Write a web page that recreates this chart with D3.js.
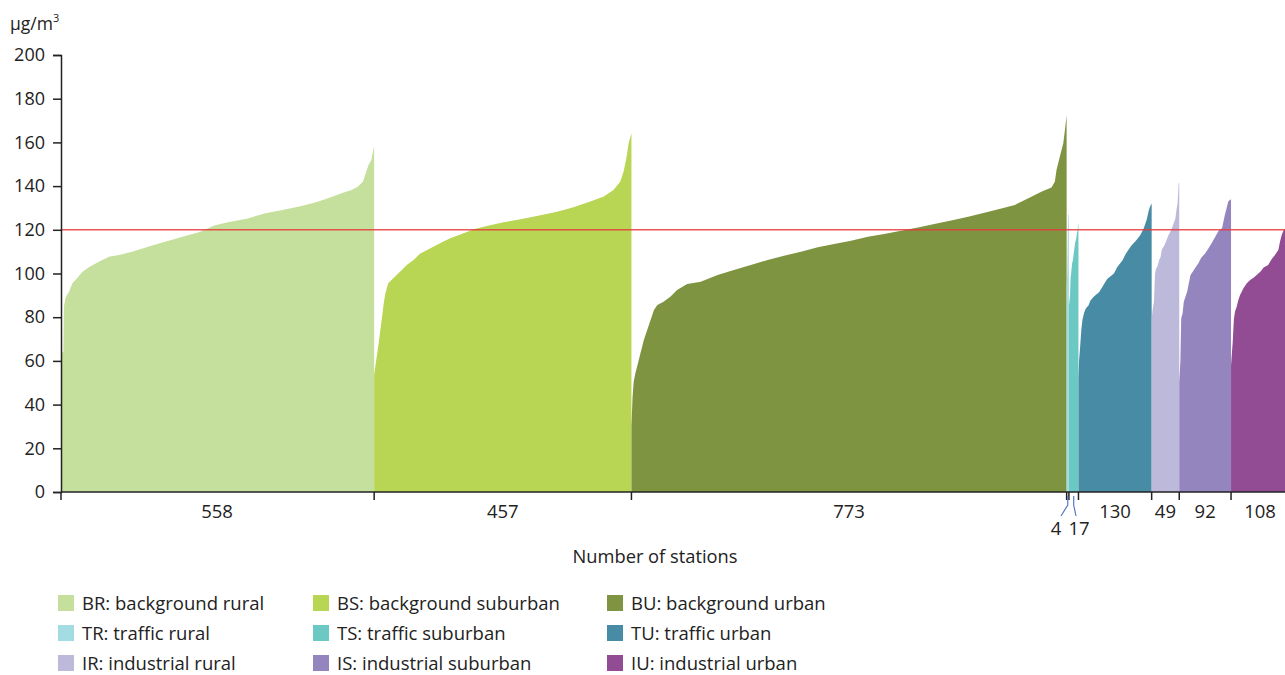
<!DOCTYPE html>
<html>
<head>
<meta charset="utf-8">
<script src="https://cdn.jsdelivr.net/npm/d3@7"></script>
<style>
  html, body { margin: 0; padding: 0; background: #fff; }
  svg { display: block; font-family: "Open Sans", "Noto Sans", sans-serif; }
</style>
</head>
<body>
<svg id="chart" width="1285" height="675"></svg>
<script>
// ---- data: sorted station values per category, as [station rank, value µg/m³]
const categories = ["BR", "BS", "BU", "TR", "TS", "TU", "IR", "IS", "IU"];
const categoryNames = ["background rural", "background suburban", "background urban",
                       "traffic rural", "traffic suburban", "traffic urban",
                       "industrial rural", "industrial suburban", "industrial urban"];
const stationCounts = [558, 457, 773, 4, 17, 130, 49, 92, 108];
const colors = ["#c5df9c", "#b8d553", "#7e9440", "#a4dce4", "#6cc8c3", "#488ba4", "#bdb9db", "#9585bf", "#924c93"];

const valuesBR = [[0,60],[3,64],[6,64],[7,85],[10,89],[16,91.7],[22,95.5],[31,98],[40,100.8],[52,103],[69,105.4],[87,107.7],[105,108.5],[128,110],[158,112.3],[188,114.6],[218,116.8],[248,119],[274,122],[298,123.4],[334,125.2],[363,127.5],[393,129],[423,130.6],[452,132.4],[476,134.4],[500,136.7],[518,138.2],[529,139.7],[538,142],[544,146.6],[548,149.6],[553,152],[558,158.4]];
const valuesBS = [[0,53.5],[2,57.3],[5,62.7],[8,68],[11,74],[14,80],[17,86.4],[20,91],[25,95.5],[34,97.8],[46,100.8],[58,103.9],[70,106.2],[82,109.2],[100,111.5],[117,113.8],[135,116.1],[159,118.4],[177,120.2],[200,121.7],[230,123.4],[260,124.8],[289,126.3],[325,128.3],[354,130.3],[384,132.9],[408,135.2],[425,138.2],[437,142],[443,146.6],[448,152.7],[452,159.6],[457,164.2]];
const valuesBU = [[0,30],[2,43.6],[4,50.5],[7,54.3],[10,57.3],[13,60.4],[16,63.5],[19,66.5],[22,69.6],[28,74.1],[34,78.7],[40,83.3],[46,85.6],[57,87.1],[69,89.4],[81,92.4],[99,95.2],[123,96.2],[153,99.3],[182,101.6],[212,103.9],[242,106.2],[271,108.1],[301,110],[331,112],[360,113.5],[390,115],[420,116.8],[449,118.1],[479,119.6],[509,121.1],[538,122.7],[568,124.2],[598,126],[627,127.8],[657,129.8],[681,131.4],[705,134.4],[728,137.4],[746,139.4],[752,142],[755,147.4],[761,153.5],[767,159.6],[770,165.7],[773,172.5]];
const valuesTR = [[0,94],[1,100],[2,118],[3,127],[4,127]];
const valuesTS = [[0,85],[2,90],[3,98],[4,100],[5,103],[6,105],[7,106],[8,108],[9,110],[10,112],[11,114],[12,115],[13,116],[14,118],[15,119],[16,121],[17,123]];
const valuesTU = [[0,52],[1,60],[3,66.5],[5,74],[7,78.7],[10,82],[13,84],[18,85.5],[21,87.5],[27,89.4],[37,91.5],[45,95],[51,97.5],[63,100],[69,103],[78,106],[84,109],[93,112.5],[102,115],[110,117.6],[116,120.7],[121,124.5],[125,129],[127,130.6],[130,132]];
const valuesIR = [[0,79],[2,84],[4,87],[6,100],[8,102.4],[10,103],[13,106],[16,107.7],[18,111],[23,113],[26,115],[30,117.6],[33,119],[37,121.4],[39,123],[42,125],[44,129],[46,132],[48,141.3],[49,141.3]];
const valuesIS = [[0,50.5],[2,59.6],[3.5,79.5],[6,81.8],[8,87],[11,89.4],[14,91.7],[17,95.5],[20,99.3],[24,100.8],[28,102.4],[34,104.7],[39,107.2],[46,109.2],[52,111.5],[58,114.1],[64,116.8],[70,119.6],[76,120.7],[81,126.8],[84,129.8],[87,132.9],[90,133.6],[92,134]];
const valuesIU = [[0,58],[3,68.8],[5,79],[7,82.5],[10,84.8],[13,87.9],[16,90.2],[19,91.7],[22,93.2],[28,95.5],[34,97],[40,98.1],[52,100.8],[58,102.7],[66,103.9],[72,106.5],[78,108.5],[84,110.8],[87,114.6],[90,117.6],[93,119.6],[96,120.5],[102,123],[108,126]];
const seriesValues = [valuesBR, valuesBS, valuesBU, valuesTR, valuesTS, valuesTU, valuesIR, valuesIS, valuesIU];

const yTicks = [0, 20, 40, 60, 80, 100, 120, 140, 160, 180, 200];
const limitValue = 120;
const yUnit = "µg/m";
const xTitle = "Number of stations";

// ---- layout
const svg = d3.select("#chart");
const mLeft = 61, mBottom = 492, mTop = 55;
const totalStations = d3.sum(stationCounts);
const offsets = stationCounts.map((c, i) => d3.sum(stationCounts.slice(0, i)));

const x = d3.scaleLinear().domain([0, totalStations]).range([60, 60 + totalStations * 0.563]);
const y = d3.scaleLinear().domain([0, 200]).range([mBottom, mTop]);

svg.append("defs").append("clipPath").attr("id", "plotclip")
  .append("rect").attr("x", mLeft).attr("y", 0).attr("width", 1285 - mLeft).attr("height", mBottom);

const plot = svg.append("g").attr("clip-path", "url(#plotclip)");

seriesValues.forEach((vals, i) => {
  const area = d3.area()
    .x(d => x(offsets[i] + d[0]))
    .y0(y(0))
    .y1(d => y(d[1]))
    .curve(d3.curveLinear);
  plot.append("path").datum(vals).attr("d", area).attr("fill", colors[i]);
});

// limit line
svg.append("line")
  .attr("x1", mLeft).attr("x2", 1285)
  .attr("y1", y(limitValue)).attr("y2", y(limitValue))
  .attr("stroke", "#e8383d").attr("stroke-opacity", 0.85).attr("stroke-width", 1.6);

// y axis
const yAxis = svg.append("g").attr("transform", `translate(${mLeft},0)`)
  .call(d3.axisLeft(y).tickValues(yTicks).tickSize(8).tickPadding(8));
yAxis.select(".domain").attr("stroke", "#222").attr("stroke-width", 1.5);
yAxis.selectAll(".tick line").attr("stroke", "#222").attr("stroke-width", 1.5);
yAxis.selectAll("text").attr("font-size", 18).attr("fill", "#222")
  .attr("font-family", "'Open Sans', sans-serif");

// unit label
const unit = svg.append("text").attr("x", 10).attr("y", 30)
  .attr("font-size", 17.5).attr("fill", "#222");
unit.append("tspan").text(yUnit);
unit.append("tspan").text("3").attr("font-size", 11).attr("dy", -8);

// x axis: boundaries
const boundaries = [0].concat(stationCounts.map((c, i) => offsets[i] + c));
svg.append("line").attr("x1", mLeft).attr("x2", 1285).attr("y1", mBottom).attr("y2", mBottom)
  .attr("stroke", "#222").attr("stroke-width", 1.5);
svg.append("g").selectAll("line").data(boundaries).join("line")
  .attr("x1", d => Math.max(mLeft, x(d))).attr("x2", d => Math.max(mLeft, x(d)))
  .attr("y1", mBottom).attr("y2", mBottom + 8)
  .attr("stroke", "#222").attr("stroke-width", 1.5);

// count labels
const lbl = svg.append("g").attr("font-size", 18.5).attr("fill", "#222").attr("text-anchor", "middle");
stationCounts.forEach((c, i) => {
  const mid = x(offsets[i] + c / 2);
  if (c < 20) return;
  let cx = mid;
  if (i === stationCounts.length - 1) cx = Math.min(mid, 1260);
  lbl.append("text").attr("x", cx).attr("y", 518).text(c);
});
// small categories with connectors
const smallIdx = [3, 4];
const smallLabelX = [1056, 1079];
smallIdx.forEach((i, k) => {
  const mid = x(offsets[i] + stationCounts[i] / 2);
  svg.append("path")
    .attr("d", `M${mid},${mBottom + 4}L${mid},${mBottom + 13}L${smallLabelX[k] + (k === 0 ? 5 : -3)},${mBottom + 24}`)
    .attr("fill", "none").attr("stroke", "#5a77c6").attr("stroke-width", 1.2);
  lbl.append("text").attr("x", smallLabelX[k]).attr("y", 535).text(stationCounts[i]);
});

// x title
svg.append("text").attr("x", 655).attr("y", 563).attr("text-anchor", "middle")
  .attr("font-size", 18.3).attr("fill", "#222").text(xTitle);

// legend
const legCols = [58, 313, 607];
const legRows = [603, 633, 663];
categories.forEach((c, i) => {
  const cx = legCols[i % 3], cy = legRows[Math.floor(i / 3)];
  svg.append("rect").attr("x", cx).attr("y", cy - 8).attr("width", 16).attr("height", 16).attr("fill", colors[i]);
  svg.append("text").attr("x", cx + 24).attr("y", cy + 6.5).attr("font-size", 18.5).attr("fill", "#222")
    .text(`${c}: ${categoryNames[i]}`);
});
</script>
</body>
</html>
